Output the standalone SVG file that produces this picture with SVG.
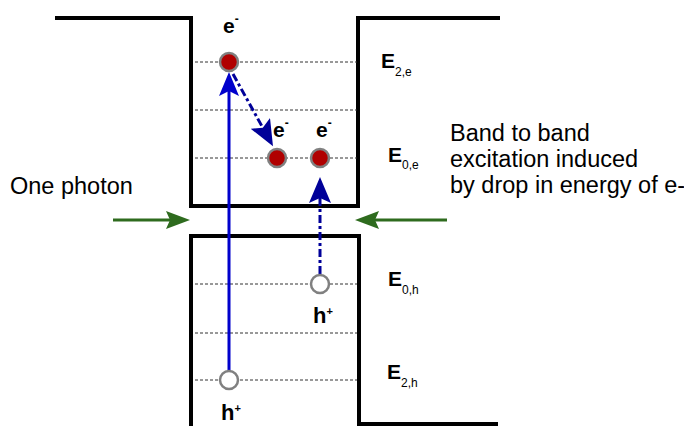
<svg xmlns="http://www.w3.org/2000/svg" width="684" height="426" viewBox="0 0 684 426">
<defs>
<style>
.band{fill:none;stroke:#000;stroke-width:4;stroke-linejoin:miter}
.lvl{stroke:#333;stroke-width:1;stroke-dasharray:3,2}
.el{fill:#B00000;stroke:#808080;stroke-width:2.5}
.ho{fill:#fff;stroke:#808080;stroke-width:2.5}
.lbl{font-family:"Liberation Sans",Arial,sans-serif;font-weight:bold;fill:#000}
.txt{font-family:"Liberation Sans",Arial,sans-serif;font-size:23.5px;fill:#000}
.sub{font-size:12px;font-weight:normal}
.dd{fill:none;stroke:#000099;stroke-width:3;stroke-dasharray:8,3,3,3}
.gr{fill:none;stroke:#2E6B1E;stroke-width:3}
</style>
<marker id="hb" markerUnits="userSpaceOnUse" markerWidth="28" markerHeight="22" refX="6" refY="11" orient="auto">
<path d="M0,0 L26,11 L0,22 L5,11 z" fill="#000099"/>
</marker>
<marker id="hs" markerUnits="userSpaceOnUse" markerWidth="26" markerHeight="20" refX="6" refY="10" orient="auto">
<path d="M0,0 L24,10 L0,20 L5,10 z" fill="#0000CC"/>
</marker>
<marker id="hg" markerUnits="userSpaceOnUse" markerWidth="26" markerHeight="20" refX="5" refY="9" orient="auto">
<path d="M0,0 L24,9 L0,18 L4,9 z" fill="#2E6B1E"/>
</marker>
</defs>
<g id="bands">
<path class="band" d="M55,18 H191 V206 H358 V18 H500"/>
<path class="band" d="M191,428 V236 H359 V424 H498"/>
</g>
<g id="levels">
<line class="lvl" x1="195" y1="62" x2="357" y2="62"/>
<line class="lvl" x1="195" y1="110" x2="357" y2="110"/>
<line class="lvl" x1="195" y1="158" x2="357" y2="158"/>
<line class="lvl" x1="195" y1="284" x2="357" y2="284"/>
<line class="lvl" x1="195" y1="333" x2="357" y2="333"/>
<line class="lvl" x1="195" y1="380" x2="357" y2="380"/>
</g>
<g id="connectors">
<line x1="229" y1="371" x2="229" y2="90" stroke="#0000CC" stroke-width="3" marker-end="url(#hs)"/>
<line class="dd" x1="233" y1="74" x2="263.3" y2="128.7" marker-end="url(#hb)"/>
<line class="dd" x1="320" y1="274" x2="320" y2="197" marker-end="url(#hb)"/>
<line class="gr" x1="113" y1="220" x2="171" y2="220" marker-end="url(#hg)"/>
<line class="gr" x1="447" y1="220" x2="374" y2="220" marker-end="url(#hg)"/>
</g>
<g id="e-top"><circle class="el" cx="229" cy="62" r="9"/><text class="lbl" x="223" y="33" font-size="21">e<tspan font-size="12" dy="-10">-</tspan></text></g>
<g id="e-mid1"><circle class="el" cx="277" cy="158" r="9"/><text class="lbl" x="273" y="137" font-size="21">e<tspan font-size="12" dy="-10">-</tspan></text></g>
<g id="e-mid2"><circle class="el" cx="320" cy="158" r="9"/><text class="lbl" x="316" y="137" font-size="21">e<tspan font-size="12" dy="-10">-</tspan></text></g>
<g id="h-mid"><circle class="ho" cx="320" cy="284" r="9"/><text class="lbl" x="313" y="323" font-size="22">h<tspan font-size="11" dy="-8">+</tspan></text></g>
<g id="h-low"><circle class="ho" cx="229" cy="380" r="9"/><text class="lbl" x="221" y="420" font-size="22">h<tspan font-size="11" dy="-8">+</tspan></text></g>
<g id="energy-labels">
<text class="lbl" x="381" y="68" font-size="21">E<tspan class="sub" dy="8">2,e</tspan></text>
<text class="lbl" x="388" y="162" font-size="21">E<tspan class="sub" dy="7">0,e</tspan></text>
<text class="lbl" x="388" y="286" font-size="21">E<tspan class="sub" dy="8">0,h</tspan></text>
<text class="lbl" x="387" y="379" font-size="21">E<tspan class="sub" dy="8">2,h</tspan></text>
</g>
<g id="texts">
<text class="txt" x="10" y="194">One photon</text>
<text class="txt" x="450" y="141">Band to band</text>
<text class="txt" x="450" y="167">excitation induced</text>
<text class="txt" x="450" y="193">by drop in energy of e-</text>
</g>
</svg>
